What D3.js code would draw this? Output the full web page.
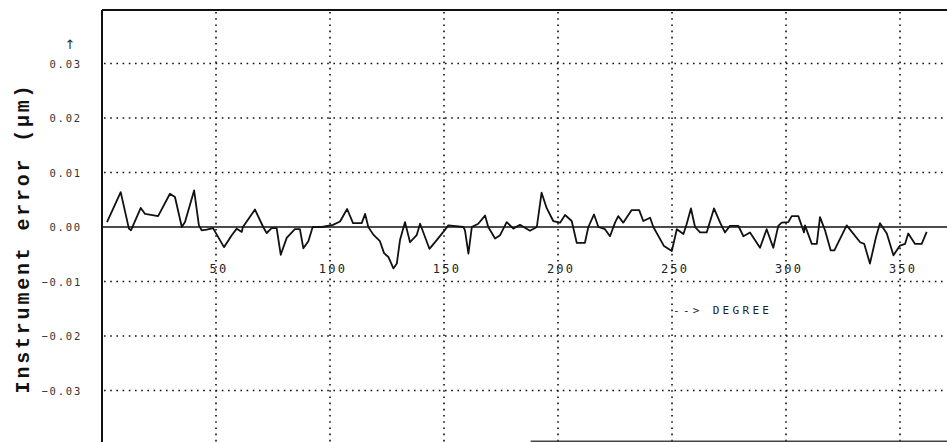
<!DOCTYPE html>
<html>
<head>
<meta charset="utf-8">
<script src="https://cdn.jsdelivr.net/npm/d3@7"></script>
<style>
  html, body { margin: 0; padding: 0; background: #fff; }
  svg { display: block; }
</style>
</head>
<body>
<svg id="chart" width="947" height="442"></svg>
<script>
// Rotary table instrument error against angle
const degrees = [
  2.2, 8.2, 11.8, 12.7, 17.0, 18.9, 24.6, 29.8, 32.0, 35.0, 36.4, 40.4, 42.5, 43.7, 45.9, 48.7,
  53.5, 56.9, 59.1, 61.3, 61.8, 67.1, 70.7, 72.2, 74.4, 76.6, 78.4, 81.0, 84.6, 86.8, 88.3, 90.5,
  92.4, 96.5, 101.3, 104.4, 107.5, 110.1, 113.9, 115.4, 116.8, 119.0, 121.9, 123.7, 125.6, 127.8,
  129.3, 130.7, 132.9, 135.1, 138.0, 139.5, 143.6, 146.8, 149.7, 151.9, 158.5, 159.2, 160.7, 162.2,
  165.0, 168.0, 169.4, 172.4, 174.6, 177.5, 180.4, 183.3, 187.7, 190.7, 192.8, 195.0, 197.9, 200.9,
  203.1, 206.0, 208.2, 211.8, 213.3, 215.8, 217.7, 220.6, 222.8, 225.0, 226.4, 228.6, 232.3, 235.6,
  237.4, 240.4, 241.8, 246.5, 249.9, 252.1, 255.0, 256.4, 258.3, 260.1, 262.3, 265.2, 268.4, 271.1,
  273.2, 275.4, 279.1, 281.3, 284.2, 288.6, 291.5, 294.4, 296.6, 298.1, 301.0, 302.5, 305.4, 307.9,
  308.3, 311.3, 313.5, 314.9, 317.1, 319.6, 321.2, 326.6, 332.5, 334.3, 336.8, 339.5, 341.2, 344.2,
  347.1, 350.0, 352.2, 353.6, 356.6, 359.5, 361.7
];
const errors = [
  0.0009, 0.0064, -0.0003, -0.0006, 0.0035, 0.0024, 0.0020, 0.0061, 0.0055, 0.0000, 0.0009, 0.0067, 0.0003, -0.0006, -0.0005, -0.0002,
  -0.0037, -0.0015, -0.0003, -0.0009, 0.0000, 0.0032, 0.0000, -0.0011, -0.0002, -0.0002, -0.0051, -0.0020, -0.0004, -0.0004, -0.0039, -0.0026,
  0.0000, 0.0000, 0.0004, 0.0010, 0.0033, 0.0007, 0.0007, 0.0024, 0.0000, -0.0014, -0.0026, -0.0048, -0.0055, -0.0076,
  -0.0067, -0.0024, 0.0009, -0.0028, -0.0015, 0.0006, -0.0040, -0.0024, -0.0009, 0.0003, 0.0000, -0.0006, -0.0049, 0.0000,
  0.0006, 0.0021, 0.0000, -0.0021, -0.0015, 0.0009, -0.0003, 0.0004, -0.0007, 0.0000, 0.0063, 0.0035, 0.0011, 0.0008,
  0.0022, 0.0011, -0.0029, -0.0029, 0.0000, 0.0023, 0.0000, -0.0004, -0.0017, 0.0008, 0.0020, 0.0008, 0.0031, 0.0031,
  0.0011, 0.0017, 0.0000, -0.0035, -0.0044, -0.0004, -0.0013, 0.0005, 0.0034, 0.0000, -0.0010, -0.0010, 0.0034, 0.0008,
  -0.0010, 0.0002, 0.0002, -0.0017, -0.0010, -0.0038, -0.0004, -0.0038, 0.0002, 0.0008, 0.0009, 0.0020, 0.0020, -0.0010,
  0.0003, -0.0031, -0.0031, 0.0018, -0.0006, -0.0043, -0.0043, 0.0003, -0.0028, -0.0031, -0.0067, -0.0018, 0.0007, -0.0012,
  -0.0052, -0.0034, -0.0031, -0.0012, -0.0031, -0.0031, -0.0009, 0.0007
];
const xTicks = [50, 100, 150, 200, 250, 300, 350];
const yTicks = [0.03, 0.02, 0.01, 0.00, -0.01, -0.02, -0.03];
const yGrid = [0.03, 0.02, 0.01, -0.01, -0.02, -0.03];

const svg = d3.select("#chart");
const W = 947, H = 442;

const x = d3.scaleLinear().domain([0, 370.6]).range([102, W]);
const y = d3.scaleLinear().domain([-0.04, 0.04]).range([445, 9]);

const ink = "#111";

// dotted grid
svg.append("g").selectAll("line").data(xTicks).join("line")
  .attr("x1", d => x(d)).attr("x2", d => x(d))
  .attr("y1", 12).attr("y2", H)
  .attr("stroke", ink).attr("stroke-width", 1.6)
  .attr("stroke-dasharray", "1.6,4.6");

svg.append("g").selectAll("line").data(yGrid).join("line")
  .attr("x1", x(0) + 2).attr("x2", W)
  .attr("y1", d => y(d)).attr("y2", d => y(d))
  .attr("stroke", ink).attr("stroke-width", 1.6)
  .attr("stroke-dasharray", "1.6,4.6");

// frame: top, left axis, bottom edge
svg.append("line").attr("x1", x(0)).attr("x2", W).attr("y1", 10).attr("y2", 10)
  .attr("stroke", ink).attr("stroke-width", 2);
svg.append("line").attr("x1", x(0)).attr("x2", x(0)).attr("y1", 10).attr("y2", H)
  .attr("stroke", ink).attr("stroke-width", 2);
svg.append("line").attr("x1", x(188)).attr("x2", W).attr("y1", H - 0.8).attr("y2", H - 0.8)
  .attr("stroke", "#444").attr("stroke-width", 1.5);

// zero reference line
svg.append("line").attr("x1", x(0)).attr("x2", W).attr("y1", y(0)).attr("y2", y(0))
  .attr("stroke", ink).attr("stroke-width", 1.7);

// error trace
const pts = degrees.map((d, i) => [d, errors[i]]);
svg.append("path")
  .datum(pts)
  .attr("fill", "none")
  .attr("stroke", ink)
  .attr("stroke-width", 1.8)
  .attr("stroke-linejoin", "round")
  .attr("d", d3.line().x(d => x(d[0])).y(d => y(d[1])));

// y tick labels
const yFmt = d3.format(".2f");
svg.append("g").selectAll("text").data(yTicks).join("text")
  .attr("x", 82).attr("y", d => y(d) + 4)
  .attr("text-anchor", "end")
  .attr("font-family", "DejaVu Sans Mono, monospace")
  .attr("font-size", 10.5)
  .attr("letter-spacing", 1.8)
  .attr("fill", "#333")
  .text(d => yFmt(d));

// x tick labels
svg.append("g").selectAll("text").data(xTicks).join("text")
  .attr("x", d => x(d) + 3).attr("y", 273)
  .attr("text-anchor", "middle")
  .attr("font-family", "DejaVu Sans Mono, monospace")
  .attr("font-size", 12)
  .attr("letter-spacing", 2.2)
  .attr("fill", "#222")
  .text(d => d);

// axis arrow above the y labels
svg.append("text")
  .attr("x", 70).attr("y", 49)
  .attr("text-anchor", "middle")
  .attr("font-family", "DejaVu Sans, sans-serif")
  .attr("font-size", 13)
  .attr("fill", "#333")
  .text("↑");

// x axis note
svg.append("text")
  .attr("x", 673).attr("y", 314)
  .attr("font-family", "DejaVu Sans Mono, monospace")
  .attr("font-size", 11)
  .attr("letter-spacing", 3.3)
  .attr("fill", "#222")
  .text("--> DEGREE");

// y axis title
svg.append("text")
  .attr("transform", "translate(29,238) rotate(-90)")
  .attr("text-anchor", "middle")
  .attr("font-family", "Liberation Mono, DejaVu Sans Mono, monospace")
  .attr("font-weight", "bold")
  .attr("font-size", 20)
  .attr("letter-spacing", 2.8)
  .attr("fill", "#111")
  .text("Instrument error (μm)");
</script>
</body>
</html>
